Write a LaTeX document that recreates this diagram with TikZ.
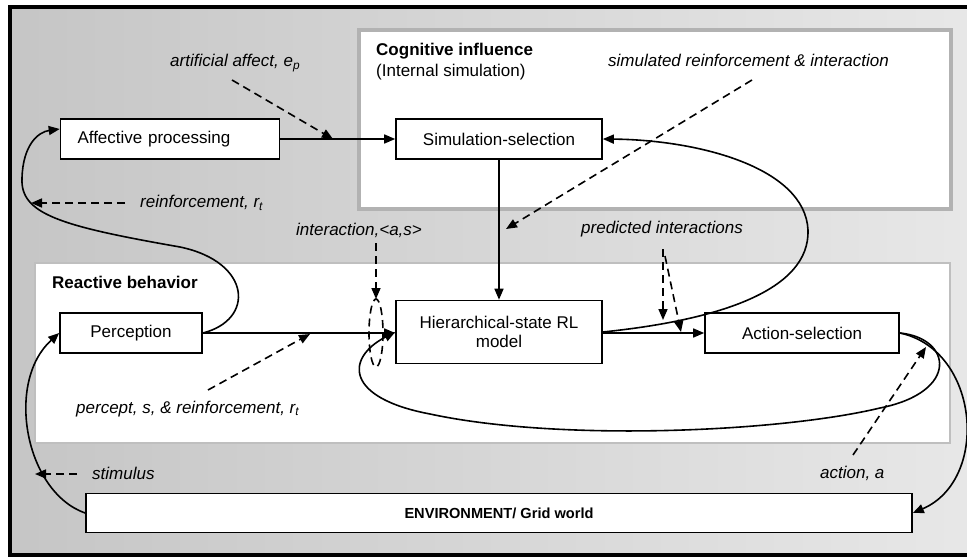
\documentclass[tikz,border=0pt]{standalone}
\usepackage{fontspec}
\setmainfont{Liberation Sans}
\usetikzlibrary{arrows.meta}
\definecolor{bgleft}{RGB}{180,180,180}
\definecolor{bgright}{RGB}{250,250,250}
\begin{document}
\begin{tikzpicture}[x=1pt,y=-1pt,
  every node/.style={font=\fontsize{17}{20}\selectfont},
  box/.style={draw=black, line width=1.6pt, fill=white, inner sep=0pt, minimum height=40pt},
  lbl/.style={font=\fontsize{17}{20}\selectfont\itshape, inner sep=0pt, anchor=west},
  ttl/.style={font=\fontsize{17}{20}\selectfont\bfseries, inner sep=0pt, anchor=west},
  plain/.style={font=\fontsize{17}{20}\selectfont, inner sep=0pt, anchor=west},
  conn/.style={line width=1.6pt, -{Triangle[length=11pt,width=9pt]}},
  dconn/.style={line width=1.6pt, dash pattern=on 8pt off 5pt, -{Triangle[length=11pt,width=9pt]}},
  dloop/.style={line width=1.6pt, dash pattern=on 8pt off 5pt},
]
\useasboundingbox (0,0) rectangle (967,559);
\fill[white] (0,0) rectangle (967,559);
\begin{scope}
  \clip (10,7) rectangle (990,555);
  \shade[left color=bgleft, right color=bgright] (-485,7) rectangle (1495,555);
\end{scope}
\draw[line width=4.5pt] (10,7) rectangle (990,555);

% group panels
\draw[draw=gray!60, line width=4pt, fill=white] (359,30) rectangle (951,209);
\draw[draw=gray!50, line width=1.5pt, fill=white] (35,263) rectangle (950,443);

% boxes
\node[box, text width=185pt, inner xsep=17pt, align=left] (aff) at (170,139) {Affective processing};
\node[box, minimum width=206pt] (sim) at (499,139) {Simulation-selection};
\node[box, minimum width=142pt] (perc) at (131,333) {Perception};
\node[box, minimum width=206pt, minimum height=63pt, align=center] (hrl) at (499,332) {Hierarchical-state RL\\[-1pt]model};
\node[box, minimum width=194pt] (act) at (802,333) {Action-selection};
\node[box, minimum width=826pt, minimum height=39pt, font=\fontsize{14.6}{17}\selectfont\bfseries] (env) at (499,513) {ENVIRONMENT/ Grid world};

% labels
\node[lbl] (lArt) at (170,63) {artificial affect, e\textsubscript{p}};
\node[ttl] (lCog) at (376,51) {Cognitive influence};
\node[plain] (lCog2) at (376,72) {(Internal simulation)};
\node[lbl] (lSim) at (608,60) {simulated reinforcement \& interaction};
\node[lbl] (lRe) at (140,203) {reinforcement, r\textsubscript{t}};
\node[lbl] (lInt) at (296,230) {interaction,<a,s>};
\node[lbl] (lPred) at (581,229) {predicted interactions};
\node[ttl] (lReact) at (52,282) {Reactive behavior};
\node[lbl] (lPer) at (76,409) {percept, s, \& reinforcement, r\textsubscript{t}};
\node[lbl] (lStim) at (92,473) {stimulus};
\node[lbl] (lAct) at (820,473) {action, a};

% solid straight connectors
\draw[conn] (aff.east) -- (sim.west);
\draw[conn] (sim.south) -- (hrl.north);
\draw[conn] (perc.east) -- (perc.east -| hrl.west);
\draw[conn] (hrl.east |- act.west) -- (act.west);

% solid curved connectors
\draw[conn] (perc.east) .. controls (255,320) and (252,262) .. (180,247)
  .. controls (60,226) and (20,214) .. (22,178)
  .. controls (23,145) and (38,132) .. (aff.west |- 0,129);
\draw[conn] (env.west) .. controls (25,492) and (5,382) .. (perc.west);
\draw[conn] (act.east) .. controls (980,350) and (990,480) .. (env.east);
\draw[conn] (act.east) .. controls (952,338) and (960,392) .. (880,408)
  .. controls (780,432) and (560,442) .. (430,414)
  .. controls (345,398) and (345,358) .. (hrl.west);
\draw[conn] (hrl.east) .. controls (720,320) and (810,290) .. (808,230)
  .. controls (805,168) and (700,140) .. (sim.east);

% dashed connectors
\coordinate (artS) at (232,80);
\coordinate (artE) at (333,139);
\draw[dconn] (artS) -- (artE);
\coordinate (reS) at (125,203);
\coordinate (reE) at (31,203);
\draw[dconn] (reS) -- (reE);
\coordinate (simS) at (752,80);
\coordinate (simE) at (506,229);
\draw[dconn] (simS) -- (simE);
\coordinate (intS) at (376,243);
\coordinate (intE) at (376,299);
\draw[dconn] (intS) -- (intE);
\draw[dloop] (376,333) ellipse [x radius=7, y radius=34];
\coordinate (prS) at (663,249);
\coordinate (prE1) at (663,320);
\coordinate (prE2) at (681,332);
\draw[dconn] (prS) -- (prE1);
\draw[dconn] (665,256) -- (prE2);
\coordinate (pcS) at (208,390);
\coordinate (pcE) at (310,334);
\draw[dconn] (pcS) -- (pcE);
\coordinate (stS) at (77,474);
\coordinate (stE) at (35,474);
\draw[dconn] (stS) -- (stE);
\coordinate (acS) at (853,455);
\coordinate (acE) at (926,347);
\draw[dconn] (acS) -- (acE);
\end{tikzpicture}
\end{document}
